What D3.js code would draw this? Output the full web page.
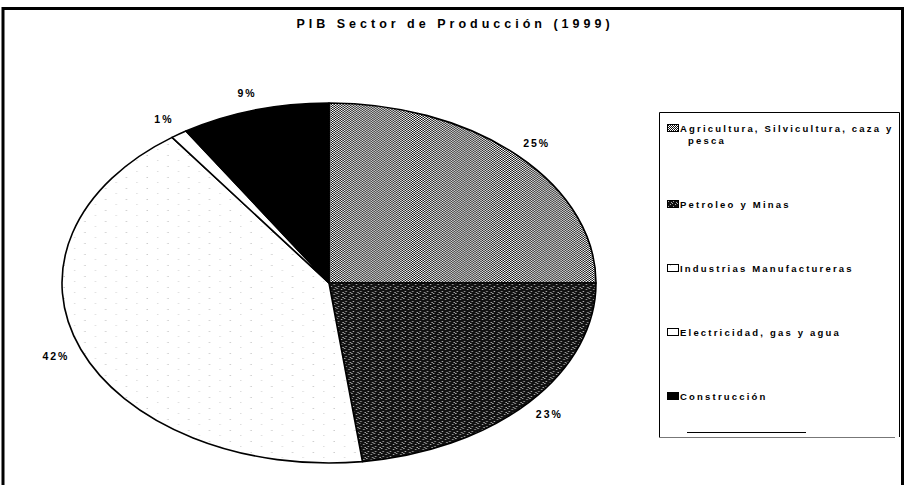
<!DOCTYPE html>
<html lang="es">
<head>
<meta charset="utf-8">
<title>PIB Sector de Producción (1999)</title>
<script src="https://d3js.org/d3.v7.min.js"></script>
<style>
  body { margin: 0; background: #fff; }
  text { font-family: "Liberation Sans", Arial, sans-serif; font-weight: bold; fill: #000; }
</style>
</head>
<body>
<svg width="905" height="485"></svg>
<script>
// data
var sectors = ["Agricultura, Silvicultura, caza y pesca", "Petroleo y Minas",
               "Industrias Manufactureras", "Electricidad, gas y agua", "Construcción"];
var shares = [25, 23, 42, 1, 9];
var legendLines = [["Agricultura, Silvicultura, caza y", "pesca"], ["Petroleo y Minas"],
                   ["Industrias Manufactureras"], ["Electricidad, gas y agua"], ["Construcción"]];
var fills = ["url(#agri)", "url(#petro)", "url(#indus)", "#fff", "#000"];

var svg = d3.select("svg");
var defs = svg.append("defs");

// checker pattern (agricultura)
var p1 = defs.append("pattern").attr("id", "agri").attr("patternUnits", "userSpaceOnUse")
  .attr("width", 2).attr("height", 2);
p1.append("rect").attr("width", 2).attr("height", 2).attr("fill", "#fff");
p1.append("rect").attr("width", 1).attr("height", 1).attr("fill", "#111");
p1.append("rect").attr("x", 1).attr("y", 1).attr("width", 1).attr("height", 1).attr("fill", "#111");

// dark speckle (petroleo)
var p2 = defs.append("pattern").attr("id", "petro").attr("patternUnits", "userSpaceOnUse")
  .attr("width", 5).attr("height", 5);
p2.append("rect").attr("width", 5).attr("height", 5).attr("fill", "#111");
[[0, 0], [3, 1], [1, 3], [4, 4]].forEach(function (d) {
  p2.append("rect").attr("x", d[0]).attr("y", d[1]).attr("width", 1).attr("height", 1).attr("fill", "#aaa");
});

// sparse dots (industrias)
var p3 = defs.append("pattern").attr("id", "indus").attr("patternUnits", "userSpaceOnUse")
  .attr("width", 14).attr("height", 11);
p3.append("rect").attr("width", 14).attr("height", 11).attr("fill", "#fff");
p3.append("rect").attr("x", 3).attr("y", 4).attr("width", 1).attr("height", 1).attr("fill", "#ccc");
p3.append("rect").attr("x", 10).attr("y", 9).attr("width", 1).attr("height", 1).attr("fill", "#ddd");

// outer frame
svg.append("path").attr("d", "M3,495 V8.5 H902.5 V495")
  .attr("fill", "none").attr("stroke", "#000").attr("stroke-width", 3);

// title
svg.append("text").attr("x", 455).attr("y", 28).attr("text-anchor", "middle")
  .style("font-size", "12.5px").style("letter-spacing", "4px")
  .text("PIB Sector de Producción (1999)");

// pie
var cx = 329, cy = 283, rx = 267, ry = 180;
var pie = d3.pie().sort(null).value(function (d) { return d; });
var arcs = pie(shares);
var arc = d3.arc().innerRadius(0).outerRadius(ry);

var g = svg.append("g")
  .attr("transform", "translate(" + cx + "," + cy + ") scale(" + (rx / ry) + ",1)");
g.selectAll("path").data(arcs).enter().append("path")
  .attr("d", arc)
  .attr("fill", function (d, i) { return fills[i]; })
  .attr("stroke", "#000").attr("stroke-width", 1.6)
  .attr("vector-effect", "non-scaling-stroke")
  .attr("stroke-linejoin", "round");

// labels
var labelArc = d3.arc().innerRadius(ry * 1.1).outerRadius(ry * 1.1);
svg.selectAll("text.lab").data(arcs).enter().append("text").attr("class", "lab")
  .attr("x", function (d) { return cx + labelArc.centroid(d)[0] * rx / ry; })
  .attr("y", function (d) { return cy + labelArc.centroid(d)[1] + 4; })
  .attr("text-anchor", "middle")
  .style("font-size", "10.5px").style("letter-spacing", "2px")
  .text(function (d) { return d.data + "%"; });

// legend
var lg = svg.append("g");
lg.append("path").attr("d", "M659.5,437 V112.5 H899.5 V437")
  .attr("fill", "none").attr("stroke", "#000").attr("stroke-width", 1);
lg.append("line").attr("x1", 659).attr("x2", 895).attr("y1", 437.5).attr("y2", 437.5)
  .attr("stroke", "#777").attr("stroke-width", 1);
lg.append("line").attr("x1", 687).attr("x2", 806).attr("y1", 432.5).attr("y2", 432.5)
  .attr("stroke", "#000").attr("stroke-width", 1);

var legendY = d3.scalePoint().domain(sectors).range([144, 400]);
var item = lg.selectAll("g.item").data(sectors).enter().append("g").attr("class", "item")
  .attr("transform", function (d, i) {
    return "translate(667," + (legendY(d) - 12 * (legendLines[i].length - 1)) + ")";
  });
item.append("rect").attr("x", 0.5).attr("y", -7.5).attr("width", 11).attr("height", 7)
  .attr("fill", function (d, i) { return fills[i]; })
  .attr("stroke", "#000").attr("stroke-width", 1);
item.append("text").attr("x", 13).attr("y", 0)
  .style("font-size", "9.5px").style("letter-spacing", "2.2px")
  .each(function (d, i) {
    var t = d3.select(this);
    legendLines[i].forEach(function (s, j) {
      t.append("tspan").attr("x", 13 + (j ? 8 : 0)).attr("dy", j ? 12 : 0).text(s);
    });
  });

// clip legend text at box edge
svg.append("rect").attr("x", 894).attr("y", 113).attr("width", 5).attr("height", 320).attr("fill", "#fff");
</script>
</body>
</html>
